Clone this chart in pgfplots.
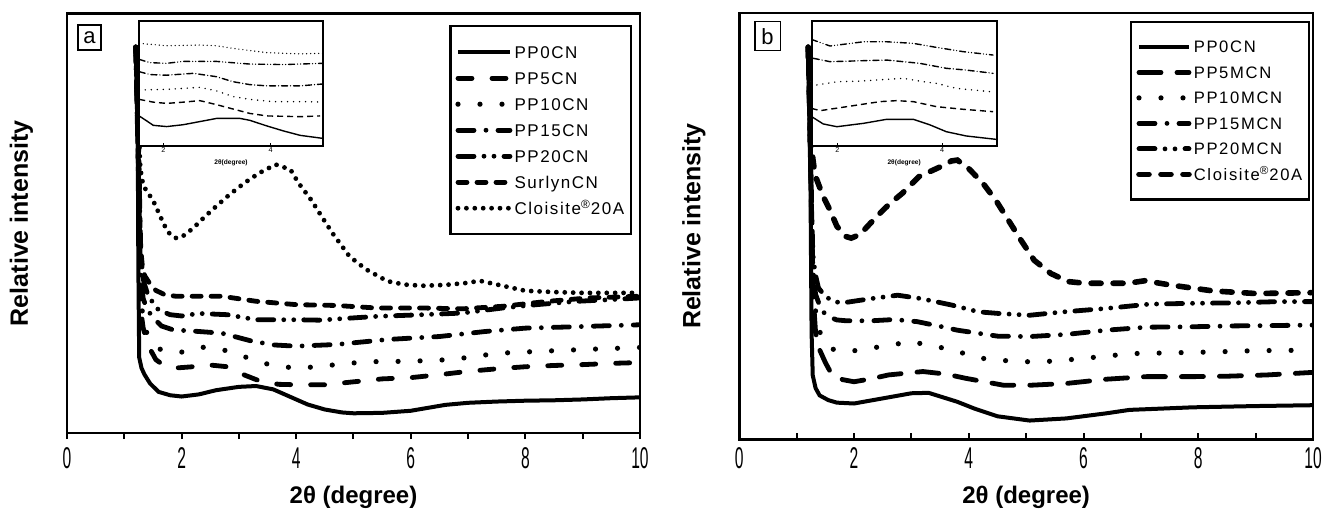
\documentclass[border=0pt]{standalone}
\usepackage{pgfplots}
\pgfplotsset{compat=1.18}
\usepackage{fontspec}
\setmainfont{Liberation Sans}
\newfontfamily\legfont[LetterSpace=9]{Liberation Sans}
\newfontfamily\legfontb[LetterSpace=10]{Liberation Sans}
\begin{document}
\begin{tikzpicture}
\useasboundingbox (0,0) rectangle (664.5pt,255.5pt);
\pgfplotsset{
  mainax/.style={scale only axis, anchor=south west, xmin=0, xmax=10, ymin=0, ymax=100,
    xtick={0,2,4,6,8,10}, minor xtick={1,3,5,7,9}, ytick=\empty, xtick pos=lower,
    axis line style={line width=1.4pt},
    major tick length=3pt, minor tick length=3pt,
    tick style={black, line width=1pt},
    /pgf/number format/assume math mode=true,
    xticklabel style={font=\fontsize{15}{15}\selectfont, xscale=0.52, anchor=center},
    xlabel={2θ (degree)}, ylabel={Relative intensity},
    xlabel style={font=\fontsize{12}{14}\selectfont\bfseries, at={(axis description cs:0.5,0)}, anchor=center},
    ylabel style={font=\fontsize{12.5}{14}\selectfont\bfseries, anchor=center},
    legend cell align=left,
  },
  insetax/.style={scale only axis, anchor=south west, ymin=0, ymax=100,
    axis background/.style={fill=white},
    xtick={2,4}, ytick=\empty, xtick pos=lower,
    major tick length=1.5pt, tick style={black, line width=0.5pt},
    axis line style={line width=0.8pt},
    /pgf/number format/assume math mode=true,
    xticklabel style={font=\fontsize{3.6}{4}\selectfont, inner sep=0.5pt},
    xlabel={2θ(degree)},
    xlabel style={font=\fontsize{3.3}{4}\selectfont\bfseries, at={(axis description cs:0.5,0)}, anchor=center, yshift=-8.5pt},
  },
  sA0/.style={black, line width=2pt},
  sA5/.style={black, line width=2.4pt, line cap=round, dash pattern=on 7pt off 10pt},
  sA10/.style={black, line width=2.6pt, line cap=round, dash pattern=on 0pt off 11pt},
  sA15/.style={black, line width=2.4pt, line cap=round, dash pattern=on 8pt off 6pt on 0pt off 6pt},
  sA20/.style={black, line width=2.4pt, line cap=round, dash pattern=on 8pt off 5pt on 0pt off 5pt on 0pt off 5pt},
  sAS/.style={black, line width=2.4pt, line cap=round, dash pattern=on 4.5pt off 5pt},
  sAC/.style={black, line width=2.4pt, line cap=round, dash pattern=on 0pt off 4.2pt},
  sBC/.style={black, line width=2.8pt, line cap=round, dash pattern=on 5pt off 6pt},
  i0/.style={black, line width=0.7pt},
  i5/.style={black, line width=0.7pt, dash pattern=on 3pt off 2pt},
  i10/.style={black, line width=0.8pt, line cap=round, dash pattern=on 0pt off 3pt},
  i15/.style={black, line width=0.7pt, line cap=round, dash pattern=on 3pt off 1.5pt on 0pt off 1.5pt},
  i20/.style={black, line width=0.7pt, line cap=round, dash pattern=on 3pt off 1.5pt on 0pt off 1.5pt on 0pt off 1.5pt},
  iS/.style={black, line width=0.7pt, line cap=round, dash pattern=on 0pt off 2pt},
}
%%%%%%%%%%%%%%%%%%%% panel a
\begin{axis}[mainax, at={(33.5pt,39pt)}, width=286.5pt, height=209.75pt,
  xticklabel style={yshift=-9.5pt},
  xlabel style={yshift=-32pt},
  ylabel style={at={(axis description cs:-0.0794,0.5)}},
  tick align=outside,
  legend image code/.code={\draw[#1] (0pt,0pt) -- (26pt,0pt);},
  legend style={at={(0.667,0.9726)}, anchor=north west, draw=black, line width=1.2pt,
    inner xsep=2.5pt, inner ysep=8pt, row sep=3pt,
    font=\legfont\fontsize{8.5}{8.5}\selectfont,
    nodes={inner xsep=1pt, inner ysep=0pt, text height=8pt, text depth=2pt}},
]
\addplot[sA0] coordinates {(1.20,92) (1.235,70) (1.245,40) (1.26,18) (1.30,15.5) (1.35,14) (1.45,11.8) (1.6,9.8) (1.8,9.0) (2.0,8.7) (2.3,9.2) (2.6,10.2) (3.0,11.0) (3.3,11.2) (3.6,10.4) (3.9,8.6) (4.2,6.8) (4.5,5.6) (4.8,4.9) (5.0,4.7) (5.5,4.8) (6.0,5.3) (6.3,6.0) (6.6,6.7) (7.0,7.2) (7.5,7.5) (8.0,7.7) (8.5,7.8) (9.0,8.0) (9.5,8.3) (10,8.5)};
\addlegendentry{PP0CN}
\addplot[sA5] coordinates {(1.20,92) (1.25,60) (1.28,30) (1.33,25) (1.38,22.5) (1.45,20) (1.55,17.5) (1.7,16) (1.9,15.5) (2.2,15.8) (2.5,16.2) (2.8,15.8) (3.1,13.8) (3.4,12.2) (3.7,11.6) (4.0,11.5) (4.5,11.5) (5.0,12.2) (5.5,12.9) (6.0,13.2) (6.5,13.9) (7.0,14.7) (7.5,15.3) (8.0,15.8) (8.5,16.1) (9.0,16.3) (9.5,16.6) (10,16.8)};
\addlegendentry{PP5CN}
\addplot[sA10] coordinates {(1.20,92) (1.25,60) (1.28,33) (1.33,27) (1.4,23.5) (1.5,21.5) (1.62,20) (1.8,19.3) (2.05,19.3) (2.4,20.5) (2.8,19.6) (3.2,17.7) (3.6,16) (4.0,15.5) (4.4,15.8) (4.8,16.5) (5.3,17) (6.0,17.1) (6.7,17.5) (7.1,18.2) (7.5,19) (8.3,19.5) (9.0,19.9) (9.8,20.3) (10,20.4)};
\addlegendentry{PP10CN}
\addplot[sA15] coordinates {(1.20,92) (1.25,60) (1.28,38) (1.33,32) (1.4,29.5) (1.5,27.5) (1.65,25.5) (1.85,24.6) (2.3,24.2) (2.7,23.8) (3.2,22) (3.6,21) (4.0,20.7) (4.7,21.1) (5.6,22.3) (6.5,23) (7.3,24.2) (8.0,25) (8.8,25.3) (9.5,25.6) (10,25.8)};
\addlegendentry{PP15CN}
\addplot[sA20] coordinates {(1.20,92) (1.25,65) (1.29,42) (1.34,36) (1.4,33.4) (1.5,31) (1.6,29.3) (1.8,28.2) (2.0,27.9) (2.3,28.5) (2.8,28.2) (3.3,27) (4.0,27) (4.4,26.9) (5.4,27.8) (6.2,28.2) (6.9,28.6) (7.6,29.8) (8.2,30.6) (8.9,31.4) (9.5,31.8) (10,32.2)};
\addlegendentry{PP20CN}
\addplot[sAS] coordinates {(1.20,92) (1.25,70) (1.28,45) (1.32,39) (1.36,37.4) (1.45,35.5) (1.55,34) (1.7,33) (1.9,32.6) (2.3,32.6) (2.7,32.6) (3.3,31.4) (4.0,30.6) (4.7,30.4) (5.4,29.8) (6.2,29.8) (6.9,29.6) (7.6,30.2) (8.4,31.4) (9.1,32.2) (10,32.6)};
\addlegendentry{SurlynCN}
\addplot[sAC] coordinates {(1.20,92) (1.24,75) (1.28,63) (1.33,59) (1.4,57.5) (1.5,55.5) (1.6,52.5) (1.7,49.5) (1.8,47.3) (1.9,46.5) (2.0,46.7) (2.2,48.8) (2.4,51.5) (2.6,54) (2.8,56.4) (3.0,58.6) (3.2,60.6) (3.4,62.3) (3.64,64) (3.9,62.8) (4.04,59.6) (4.26,55.6) (4.45,51.5) (4.63,47.7) (4.93,42.1) (5.22,39) (5.59,36.2) (5.88,35.4) (6.2,35.1) (6.6,35.3) (7.0,35.8) (7.2,36.3) (7.5,35.4) (8.0,33.9) (8.5,33.6) (9.0,33.4) (10,33.4)};
\addlegendentry{Cloisite\textsuperscript{®}20A}
\node[draw, line width=0.8pt, font=\fontsize{11}{11}\selectfont, minimum width=11.5pt, minimum height=12.5pt, inner sep=0pt] at (rel axis cs:0.0393,0.943) {a};
\end{axis}
%%%%%%%%%%%%%%%%%%%% inset a
\begin{axis}[insetax, at={(69.65pt,182.5pt)}, width=91.7pt, height=62.65pt, xmin=1.55, xmax=4.97]
\addplot[i0] coordinates {(1.55,23.9) (1.69,20) (1.81,16.5) (2.06,15.5) (2.37,17) (2.68,19.5) (2.99,22) (3.43,22) (3.61,20.5) (3.93,16) (4.24,12) (4.55,8.5) (4.97,6.1)};
\addplot[i5] coordinates {(1.55,37.2) (1.81,35) (2.06,34) (2.37,35) (2.68,36.2) (2.99,33) (3.30,29.5) (3.61,26) (3.93,24) (4.55,23.4) (4.92,24)};
\addplot[i10] coordinates {(1.55,44.7) (2.06,45.2) (2.68,46.8) (2.99,44) (3.30,39.4) (3.61,37.2) (4.05,35.4) (4.67,35.4) (4.97,35)};
\addplot[i15] coordinates {(1.55,59.3) (1.75,57) (2.06,56.5) (2.56,58) (2.99,55.3) (3.30,51.3) (3.61,49) (3.93,48) (4.55,48) (4.97,49.5)};
\addplot[i20] coordinates {(1.55,69.1) (1.75,66.5) (2.06,66) (2.37,67.5) (2.99,67.5) (3.61,65.4) (4.24,65) (4.97,66)};
\addplot[iS] coordinates {(1.55,81.9) (2.06,80) (2.68,80.6) (2.99,80) (3.30,77.9) (3.93,74.5) (4.55,73.5) (4.97,74)};
\end{axis}
%%%%%%%%%%%%%%%%%%%% panel b
\begin{axis}[mainax, at={(369.65pt,35.85pt)}, width=286.85pt, height=213.15pt,
  xticklabel style={yshift=-9.4pt},
  xlabel style={yshift=-28.85pt},
  ylabel style={at={(axis description cs:-0.079,0.5)}},
  tick align=inside,
  legend image code/.code={\draw[#1] (0pt,0pt) -- (25pt,0pt);},
  legend style={at={(0.681,0.982)}, anchor=north west, draw=black, line width=1.2pt,
    inner xsep=2.5pt, inner ysep=7.5pt, row sep=2.75pt,
    font=\legfontb\fontsize{8.3}{8.3}\selectfont,
    nodes={inner xsep=1pt, inner ysep=0pt, text height=8pt, text depth=2pt}},
]
\addplot[sA0] coordinates {(1.20,92) (1.24,60) (1.26,25) (1.28,15) (1.33,12) (1.4,10.3) (1.55,9.2) (1.7,8.6) (2.0,8.4) (2.5,9.6) (3.0,10.8) (3.3,10.9) (3.8,8.8) (4.1,7.2) (4.5,5.4) (5.06,4.4) (5.7,4.9) (6.4,6.1) (6.8,6.9) (7.9,7.5) (9.0,7.8) (10,8.0)};
\addlegendentry{PP0CN}
\addplot[sA5, dash pattern=on 11pt off 8pt] coordinates {(1.2,92) (1.25,60) (1.28,35) (1.33,25) (1.4,21) (1.5,18) (1.6,15.5) (1.8,14) (2.0,13.5) (2.3,14.2) (2.6,15.1) (3.2,15.9) (3.6,15.3) (3.95,14.3) (4.6,12.7) (5.1,12.7) (5.7,13.1) (6.4,14.1) (7.1,14.7) (7.9,14.7) (8.5,14.8) (9.2,15.1) (10,15.7)};
\addlegendentry{PP5MCN}
\addplot[sA10] coordinates {(1.2,92) (1.25,60) (1.28,38) (1.33,30) (1.41,25) (1.5,22.5) (1.65,21) (1.87,20.5) (2.25,21.3) (2.65,22.1) (3.0,23) (3.35,21.8) (3.7,21.2) (4.1,19.2) (4.5,18.6) (4.9,18.2) (5.3,18.2) (5.7,18.6) (6.0,19) (6.4,19.5) (6.8,20.1) (7.2,20.2) (8.3,20.5) (9.0,20.8) (10,20.9)};
\addlegendentry{PP10MCN}
\addplot[sA15] coordinates {(1.2,92) (1.25,60) (1.28,40) (1.33,34) (1.43,30.3) (1.55,28.8) (1.7,28) (1.87,27.8) (2.3,27.8) (2.7,28.1) (3.1,27.6) (3.5,26.5) (3.8,25.6) (4.5,24.2) (5.06,24.1) (5.7,24.6) (6.4,25.6) (7.1,26.3) (7.9,26.4) (8.6,26.6) (9.4,26.7) (10,26.8)};
\addlegendentry{PP15MCN}
\addplot[sA20] coordinates {(1.2,92) (1.25,62) (1.28,44) (1.32,39) (1.38,35.5) (1.5,33.5) (1.65,32.3) (1.8,32) (2.3,33) (2.76,33.8) (3.17,33) (3.7,31.5) (4.17,29.9) (4.54,29.5) (5.06,29.1) (5.66,29.9) (6.4,30.7) (7.14,31.7) (7.9,31.9) (8.6,32) (9.4,32.3) (10,32.3)};
\addlegendentry{PP20MCN}
\addplot[sBC] coordinates {(1.2,92) (1.24,75) (1.28,66) (1.32,62) (1.46,57) (1.58,53.8) (1.7,50) (1.85,47.6) (1.95,47.2) (2.1,48) (2.39,52.2) (2.6,55) (2.84,57.7) (3.13,61.6) (3.5,63.9) (3.7,65.3) (3.8,65.5) (4.0,63.5) (4.25,60) (4.47,56.1) (4.69,51.4) (4.91,46.7) (5.14,42) (5.43,38.9) (5.73,37) (6.03,36.6) (6.77,36.6) (7.07,37.2) (7.51,36.2) (8.26,34.8) (9.0,34.2) (10,34.4)};
\addlegendentry{Cloisite\textsuperscript{®}20A}
\node[draw, line width=0.8pt, font=\fontsize{11}{11}\selectfont, minimum width=12.8pt, minimum height=14.5pt, inner sep=0pt] at (rel axis cs:0.0492,0.9456) {b};
\end{axis}
%%%%%%%%%%%%%%%%%%%% inset b
\begin{axis}[insetax, at={(405.85pt,182.5pt)}, width=92.5pt, height=62.65pt, xmin=1.51, xmax=5.04]
\addplot[i0] coordinates {(1.51,23.4) (1.73,17.6) (1.99,15.4) (2.5,18.1) (2.94,21.3) (3.45,21.3) (3.77,16.8) (4.08,11.4) (4.46,8) (5.03,5.3)};
\addplot[i5] coordinates {(1.51,30) (1.67,28.2) (2.18,31.4) (2.81,35.4) (3.13,36.2) (3.45,35.4) (3.89,31.4) (4.4,29.3) (4.97,27.4)};
\addplot[i10] coordinates {(1.61,48.7) (2.0,51.3) (2.43,51.8) (3.26,54) (3.64,51.3) (3.89,50) (4.27,46) (4.91,43.4)};
\addplot[i15] coordinates {(1.54,70) (1.86,67.3) (2.5,68.1) (2.94,68.6) (3.57,66) (4.08,62) (4.46,60.6) (4.97,58)};
\addplot[i20] coordinates {(1.51,85) (1.86,79.8) (2.5,83.2) (2.94,83.2) (3.45,81.9) (3.89,78.7) (4.4,75.3) (4.97,72.6)};
\end{axis}
\end{tikzpicture}
\end{document}
